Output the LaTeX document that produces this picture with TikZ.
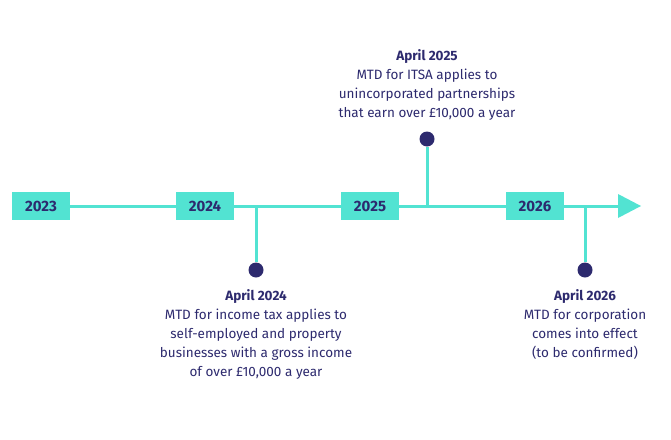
\documentclass[tikz,border=0pt]{standalone}
\usepackage{fontspec}
\setmainfont{Fira Sans}
\definecolor{teal}{HTML}{52E3D2}
\definecolor{navy}{HTML}{2D2A6E}
\begin{document}
\begin{tikzpicture}[x=1pt,y=-1pt,
  yearbox/.style={fill=teal,minimum width=58pt,minimum height=28pt,inner sep=0pt,text=navy,font=\fontsize{15}{18}\selectfont\bfseries},
  dot/.style={circle,fill=navy,minimum size=15pt,inner sep=0pt},
  info/.style={align=center,text=navy,font=\fontsize{13.5}{19}\selectfont},
  tl/.style={teal,line width=3pt}]
\useasboundingbox (0,0) rectangle (671,439);
\coordinate (start) at (12,206);
\coordinate (tipbase) at (620,206);
\draw[tl] (start) -- (tipbase);
\fill[teal] (618,194) -- (641,206) -- (618,218) -- cycle;
\node[yearbox] (y23) at (41,206) {2023};
\node[yearbox] (y24) at (205,206) {2024};
\node[yearbox] (y25) at (370,206) {2025};
\node[yearbox] (y26) at (535,206) {2026};
\coordinate (s24) at (256,206);
\coordinate (s25) at (427,206);
\coordinate (s26) at (585,206);
\node[dot] (d24) at (256,270) {};
\node[dot] (d25) at (427,139) {};
\node[dot] (d26) at (585,270) {};
\draw[tl] (s24) -- (d24);
\draw[tl] (s25) -- (d25);
\draw[tl] (s26) -- (d26);
\node[info,anchor=north] (t24) at (256,286) {\textbf{April 2024}\\MTD for income tax applies to\\self-employed and property\\businesses with a gross income\\of over £10,000 a year};
\node[info,anchor=south] (t25) at (427,124) {\textbf{April 2025}\\MTD for ITSA applies to\\unincorporated partnerships\\that earn over £10,000 a year};
\node[info,anchor=north] (t26) at (585,286) {\textbf{April 2026}\\MTD for corporation\\comes into effect\\(to be confirmed)};
\end{tikzpicture}
\end{document}
